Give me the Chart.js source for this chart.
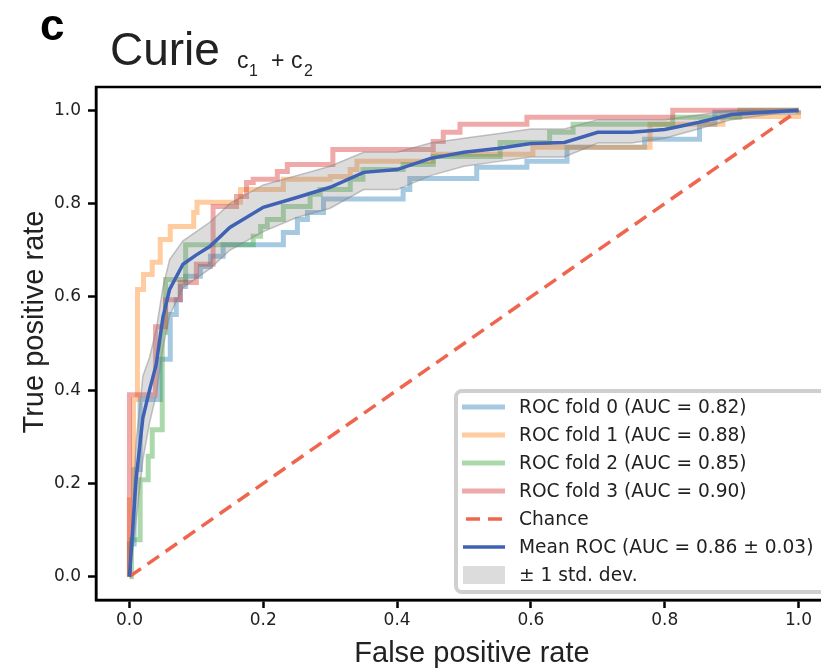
<!DOCTYPE html>
<html>
<head>
<meta charset="utf-8">
<script src="https://cdn.jsdelivr.net/npm/chart.js@4"></script>
<style>
  html, body { margin: 0; padding: 0; background: #fff; overflow: hidden; }
  #wrap { position: relative; width: 845px; height: 668px; }
</style>
</head>
<body>
<div id="wrap"><canvas id="rocChart"></canvas></div>
<script>
// ROC folds: each point = (fpr, tpr) where the curve steps up
const fold0Fpr = [0, 0, 0.007, 0.016, 0.046, 0.061, 0.07, 0.076, 0.084, 0.106, 0.121, 0.14, 0.23, 0.251, 0.266, 0.29, 0.409, 0.419, 0.519, 0.594, 0.654, 0.77, 0.852, 0.875, 1];
const fold0Tpr = [0, 0.07, 0.23, 0.38, 0.466, 0.562, 0.594, 0.622, 0.644, 0.665, 0.687, 0.712, 0.738, 0.766, 0.781, 0.81, 0.83, 0.854, 0.878, 0.891, 0.921, 0.938, 0.97, 0.996, 1];

const fold1Fpr = [0, 0, 0.006, 0.012, 0.021, 0.034, 0.046, 0.061, 0.096, 0.101, 0.166, 0.23, 0.3, 0.33, 0.34, 0.454, 0.603, 0.778, 0.887, 1];
const fold1Tpr = [0, 0.165, 0.38, 0.616, 0.648, 0.674, 0.723, 0.751, 0.781, 0.803, 0.83, 0.852, 0.858, 0.873, 0.891, 0.906, 0.921, 0.97, 0.987, 1];

const fold2Fpr = [0, 0.003, 0.016, 0.028, 0.034, 0.049, 0.054, 0.084, 0.185, 0.196, 0.206, 0.23, 0.27, 0.285, 0.33, 0.349, 0.409, 0.454, 0.554, 0.628, 0.663, 0.812, 0.912, 1];
const fold2Tpr = [0, 0.079, 0.208, 0.258, 0.315, 0.524, 0.637, 0.712, 0.73, 0.751, 0.766, 0.794, 0.82, 0.83, 0.852, 0.873, 0.884, 0.901, 0.931, 0.953, 0.97, 0.985, 1, 1];

const fold3Fpr = [0, 0, 0.039, 0.054, 0.076, 0.1, 0.125, 0.16, 0.175, 0.185, 0.221, 0.236, 0.304, 0.454, 0.469, 0.494, 0.594, 0.812, 1];
const fold3Tpr = [0, 0.39, 0.536, 0.594, 0.631, 0.67, 0.794, 0.815, 0.845, 0.852, 0.869, 0.884, 0.916, 0.933, 0.953, 0.97, 0.985, 1, 1];

// mean ROC and +/- 1 std band
const meanFpr = [0, 0.01, 0.02, 0.03, 0.04, 0.05, 0.06, 0.08, 0.1, 0.12, 0.15, 0.2, 0.25, 0.3, 0.35, 0.4, 0.45, 0.5, 0.55, 0.6, 0.65, 0.7, 0.75, 0.8, 0.85, 0.9, 0.95, 1.0];
const meanTpr = [0, 0.21, 0.34, 0.40, 0.455, 0.556, 0.616, 0.67, 0.69, 0.708, 0.749, 0.792, 0.813, 0.835, 0.867, 0.873, 0.897, 0.91, 0.918, 0.929, 0.931, 0.953, 0.953, 0.959, 0.974, 0.991, 0.996, 1.0];
const stdUpper = [0, 0.29, 0.43, 0.47, 0.53, 0.62, 0.68, 0.72, 0.74, 0.76, 0.80, 0.84, 0.86, 0.88, 0.91, 0.91, 0.93, 0.94, 0.95, 0.96, 0.96, 0.98, 0.98, 0.98, 0.99, 1.0, 1.0, 1.0];
const stdLower = [0, 0.12, 0.25, 0.33, 0.39, 0.49, 0.56, 0.62, 0.64, 0.66, 0.70, 0.74, 0.77, 0.79, 0.83, 0.83, 0.86, 0.88, 0.89, 0.90, 0.90, 0.93, 0.93, 0.94, 0.96, 0.98, 0.99, 1.0];

const chanceFpr = [0, 1];
const chanceTpr = [0, 1];

const xTicks = [0, 0.2, 0.4, 0.6, 0.8, 1.0];
const xTickLabels = ['0.0', '0.2', '0.4', '0.6', '0.8', '1.0'];
const yTicks = [0, 0.2, 0.4, 0.6, 0.8, 1.0];
const yTickLabels = ['0.0', '0.2', '0.4', '0.6', '0.8', '1.0'];

const legendLabels = [
  'ROC fold 0 (AUC = 0.82)',
  'ROC fold 1 (AUC = 0.88)',
  'ROC fold 2 (AUC = 0.85)',
  'ROC fold 3 (AUC = 0.90)',
  'Chance',
  'Mean ROC (AUC = 0.86 \u00b1 0.03)',
  '\u00b1 1 std. dev.'
];

const foldColors = ['rgba(31,119,180,0.4)', 'rgba(255,127,14,0.4)', 'rgba(44,160,44,0.4)', 'rgba(214,39,40,0.4)'];
const meanColor = '#4062b4';
const chanceColor = '#f0654d';
const bandFill = 'rgba(128,128,128,0.28)';
const bandEdge = 'rgba(128,128,128,0.45)';

const pts = (xs, ys) => xs.map((x, i) => ({ x: x, y: ys[i] }));

function foldSet(xs, ys, color) {
  return { data: pts(xs, ys), borderColor: color, borderWidth: 5, stepped: true,
           pointRadius: 0, fill: false, borderJoinStyle: 'miter' };
}

// drawing order: first dataset ends on top
const datasets = [
  { data: pts(meanFpr, meanTpr), borderColor: meanColor, borderWidth: 3.5, pointRadius: 0, tension: 0, fill: false },
  { data: pts(meanFpr, stdUpper), borderColor: bandEdge, backgroundColor: bandFill, borderWidth: 1.5, pointRadius: 0, fill: '+1' },
  { data: pts(meanFpr, stdLower), borderColor: bandEdge, borderWidth: 1.5, pointRadius: 0, fill: false },
  { data: pts(chanceFpr, chanceTpr), borderColor: chanceColor, borderWidth: 3.5, borderDash: [14, 8], pointRadius: 0, fill: false },
  foldSet(fold3Fpr, fold3Tpr, foldColors[3]),
  foldSet(fold2Fpr, fold2Tpr, foldColors[2]),
  foldSet(fold1Fpr, fold1Tpr, foldColors[1]),
  foldSet(fold0Fpr, fold0Tpr, foldColors[0])
];

const decorations = {
  id: 'decorations',
  afterDatasetsDraw(chart) {
    const { ctx, chartArea: a } = chart;
    ctx.save();
    ctx.strokeStyle = '#000';
    ctx.lineWidth = 2.5;
    ctx.strokeRect(a.left, a.top, a.right - a.left, a.bottom - a.top);
    ctx.restore();
  },
  afterDraw(chart) {
    const ctx = chart.ctx;
    ctx.save();
    ctx.fillStyle = '#000';
    ctx.textAlign = 'left';
    ctx.textBaseline = 'alphabetic';

    // panel letter + title with subscripts
    ctx.font = 'bold 44px "Liberation Sans"';
    ctx.fillText('c', 40, 40);
    ctx.fillStyle = '#222';
    ctx.font = '46px "Liberation Sans"';
    ctx.fillText('Curie', 110, 65);
    ctx.font = '23px "Liberation Sans"';
    ctx.fillText('c', 237, 68);
    ctx.fillText('+', 271, 68);
    ctx.fillText('c', 291, 68);
    ctx.font = '16px "Liberation Sans"';
    ctx.fillText('1', 249, 76);
    ctx.fillText('2', 304, 76);

    // axis titles
    ctx.fillStyle = '#222';
    ctx.font = '29px "Liberation Sans"';
    ctx.textAlign = 'center';
    ctx.fillText('False positive rate', 472, 662);
    ctx.save();
    ctx.translate(43, 322);
    ctx.rotate(-Math.PI / 2);
    ctx.fillText('True positive rate', 0, 0);
    ctx.restore();

    // legend
    const lx = 456, ly = 391, lw = 400, lh = 201;
    ctx.beginPath();
    ctx.roundRect(lx, ly, lw, lh, 6);
    ctx.fillStyle = 'rgba(255,255,255,0.85)';
    ctx.fill();
    ctx.strokeStyle = '#cfcfcf';
    ctx.lineWidth = 4;
    ctx.stroke();

    ctx.font = '18.6px "DejaVu Sans"';
    ctx.textAlign = 'left';
    ctx.textBaseline = 'middle';
    legendLabels.forEach((label, i) => {
      const y = 407 + i * 28;
      ctx.save();
      if (i < 4) {
        ctx.strokeStyle = foldColors[i];
        ctx.lineWidth = 5;
        ctx.beginPath(); ctx.moveTo(462, y); ctx.lineTo(505, y); ctx.stroke();
      } else if (i === 4) {
        ctx.strokeStyle = chanceColor;
        ctx.lineWidth = 3.5;
        ctx.setLineDash([14, 8]);
        ctx.beginPath(); ctx.moveTo(466, y); ctx.lineTo(505, y); ctx.stroke();
      } else if (i === 5) {
        ctx.strokeStyle = meanColor;
        ctx.lineWidth = 3.5;
        ctx.beginPath(); ctx.moveTo(463, y); ctx.lineTo(505, y); ctx.stroke();
      } else {
        ctx.fillStyle = bandFill;
        ctx.fillRect(463, y - 9, 42, 18);
      }
      ctx.restore();
      ctx.fillStyle = '#222';
      ctx.fillText(label, 519, y + 1);
    });
    ctx.restore();
  }
};

const tickFont = { family: 'DejaVu Sans', size: 17 };

new Chart(document.getElementById('rocChart').getContext('2d'), {
  type: 'line',
  data: { datasets: datasets },
  options: {
    responsive: true,
    maintainAspectRatio: false,
    devicePixelRatio: 1,
    animation: false,
    layout: { padding: { top: 87, right: 13, left: 0, bottom: 0 } },
    plugins: { legend: { display: false }, tooltip: { enabled: false } },
    scales: {
      x: {
        type: 'linear', min: -0.05, max: 1.05,
        afterBuildTicks: s => { s.ticks = xTicks.map(v => ({ value: v })); },
        afterFit: s => { s.height = 68; },
        ticks: { color: '#222', font: tickFont, padding: 2, maxRotation: 0,
                 callback: v => xTickLabels[xTicks.indexOf(v)] },
        grid: { drawOnChartArea: false, tickLength: 8, tickWidth: 2.5, tickColor: '#000' },
        border: { color: '#000', width: 2.5 }
      },
      y: {
        type: 'linear', min: -0.05, max: 1.05,
        afterBuildTicks: s => { s.ticks = yTicks.map(v => ({ value: v })); },
        afterFit: s => { s.width = 96; },
        ticks: { color: '#222', font: tickFont, padding: 7,
                 callback: v => yTickLabels[yTicks.indexOf(v)] },
        grid: { drawOnChartArea: false, tickLength: 8, tickWidth: 2.5, tickColor: '#000' },
        border: { color: '#000', width: 2.5 }
      }
    }
  },
  plugins: [decorations]
});
</script>
</body>
</html>
